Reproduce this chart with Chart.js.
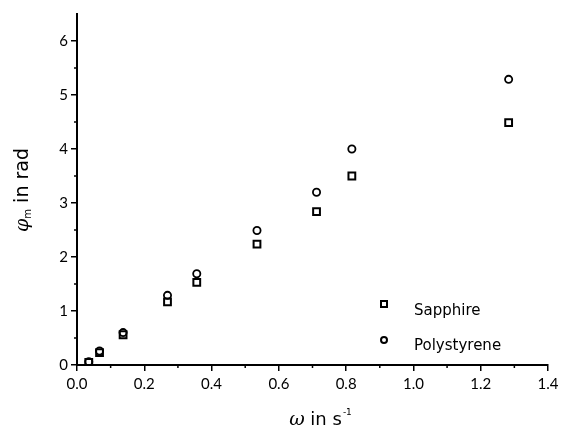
<!DOCTYPE html>
<html>
<head>
<meta charset="utf-8">
<script src="https://cdn.jsdelivr.net/npm/chart.js@4.4.0/dist/chart.umd.min.js"></script>
<style>
  html, body { margin: 0; padding: 0; background: #fff; }
  #wrap { width: 571px; height: 434px; }
</style>
</head>
<body>
<div id="wrap"><canvas id="chart"></canvas></div>
<script>
// omega (1/s) values
const omega = [0.035, 0.067, 0.137, 0.269, 0.356, 0.535, 0.712, 0.817, 1.283];
const sapphire = [0.05, 0.23, 0.56, 1.17, 1.53, 2.24, 2.84, 3.5, 4.49];
const polystyrene = [0.06, 0.26, 0.6, 1.29, 1.69, 2.49, 3.2, 4.0, 5.29];
const seriesNames = ["Sapphire", "Polystyrene"];
const xTicks = [0, 0.2, 0.4, 0.6, 0.8, 1.0, 1.2, 1.4];
const yTicks = [0, 1, 2, 3, 4, 5, 6];

const FONT = "Lato, 'DejaVu Sans', sans-serif";
const TFONT = "'DejaVu Sans', sans-serif";
const GREEK = "italic 19px 'DejaVu Serif', serif";

const toPoints = (ys) => omega.map((x, i) => ({ x: x, y: ys[i] })).filter(p => p.y != null);

// minor ticks, axis titles and the in-plot legend
const extras = {
  id: "extras",
  afterDraw(chart) {
    const ctx = chart.ctx;
    const xs = chart.scales.x, ys = chart.scales.y;
    const area = chart.chartArea;
    ctx.save();
    ctx.strokeStyle = "#000";
    ctx.lineWidth = 1.5;
    // minor ticks
    for (let v = 0.1; v < 1.4; v += 0.2) {
      const px = xs.getPixelForValue(v);
      ctx.beginPath(); ctx.moveTo(px, area.bottom); ctx.lineTo(px, area.bottom + 3); ctx.stroke();
    }
    for (let v = 0.5; v < 6.5; v += 1) {
      const py = ys.getPixelForValue(v);
      ctx.beginPath(); ctx.moveTo(area.left, py); ctx.lineTo(area.left - 3, py); ctx.stroke();
    }

    ctx.fillStyle = "#000";
    ctx.textAlign = "left";
    ctx.textBaseline = "alphabetic";
    // y title
    ctx.save();
    ctx.translate(28, 190);
    ctx.rotate(-Math.PI / 2);
    ctx.font = GREEK;
    let w1 = ctx.measureText("φ").width;
    ctx.font = "10px " + TFONT;
    let w2 = ctx.measureText("m").width;
    ctx.font = "19px " + TFONT;
    let w3 = ctx.measureText(" in rad").width;
    let sx = -(w1 + w2 + w3) / 2;
    ctx.font = GREEK;
    ctx.fillText("φ", sx, 0);
    ctx.font = "10px " + TFONT;
    ctx.fillText("m", sx + w1, 3);
    ctx.font = "19px " + TFONT;
    ctx.fillText(" in rad", sx + w1 + w2, 0);
    ctx.restore();

    // x title
    ctx.font = GREEK;
    let a = ctx.measureText("ω").width;
    ctx.font = "18px " + TFONT;
    let b = ctx.measureText(" in s").width;
    ctx.font = "9px " + TFONT;
    let c = ctx.measureText("-1").width;
    let x0 = 320 - (a + b + c) / 2;
    ctx.font = GREEK;
    ctx.fillText("ω", x0, 425);
    ctx.font = "18px " + TFONT;
    ctx.fillText(" in s", x0 + a, 425);
    ctx.font = "9px " + TFONT;
    ctx.fillText("-1", x0 + a + b + 1, 415);

    // legend
    ctx.lineWidth = 2;
    ctx.strokeRect(381, 301, 6, 6);
    ctx.beginPath(); ctx.arc(384, 340, 3, 0, Math.PI * 2); ctx.stroke();
    ctx.font = "15px " + TFONT;
    ctx.textBaseline = "middle";
    ctx.fillText(seriesNames[0], 414, 311);
    ctx.fillText(seriesNames[1], 414, 346);
    ctx.restore();
  }
};

new Chart(document.getElementById("chart"), {
  type: "scatter",
  data: {
    datasets: [
      {
        label: seriesNames[0],
        data: toPoints(sapphire),
        pointStyle: "rect",
        pointRadius: 4.8,
        pointBorderWidth: 2,
        borderColor: "#000",
        backgroundColor: "rgba(255,255,255,0)",
      },
      {
        label: seriesNames[1],
        data: toPoints(polystyrene),
        pointStyle: "circle",
        pointRadius: 3.6,
        pointBorderWidth: 1.8,
        borderColor: "#000",
        backgroundColor: "rgba(255,255,255,0)",
      },
    ],
  },
  options: {
    responsive: true,
    maintainAspectRatio: false,
    animation: false,
    layout: { padding: { top: 14, right: 23, left: 0, bottom: 0 } },
    plugins: { legend: { display: false }, tooltip: { enabled: false } },
    scales: {
      x: {
        type: "linear",
        min: 0,
        max: 1.4,
        afterBuildTicks: (s) => { s.ticks = xTicks.map(v => ({ value: v })); },
        afterFit: (s) => { s.height = 69; },
        ticks: {
          color: "#000",
          font: { family: FONT, size: 15 },
          padding: 4,
          maxRotation: 0,
          callback: (v) => Number(v).toFixed(1),
        },
        grid: { drawOnChartArea: false, drawTicks: true, tickLength: 6, color: "#000", lineWidth: 1.5 },
        border: { color: "#000", width: 2 },
      },
      y: {
        type: "linear",
        min: 0,
        max: 6.5,
        afterBuildTicks: (s) => { s.ticks = yTicks.map(v => ({ value: v })); },
        afterFit: (s) => { s.width = 77; },
        ticks: {
          color: "#000",
          font: { family: FONT, size: 15 },
          padding: 3,
          callback: (v) => String(v),
        },
        grid: { drawOnChartArea: false, drawTicks: true, tickLength: 6, color: "#000", lineWidth: 1.5 },
        border: { color: "#000", width: 2 },
      },
    },
  },
  plugins: [extras],
});
</script>
</body>
</html>
